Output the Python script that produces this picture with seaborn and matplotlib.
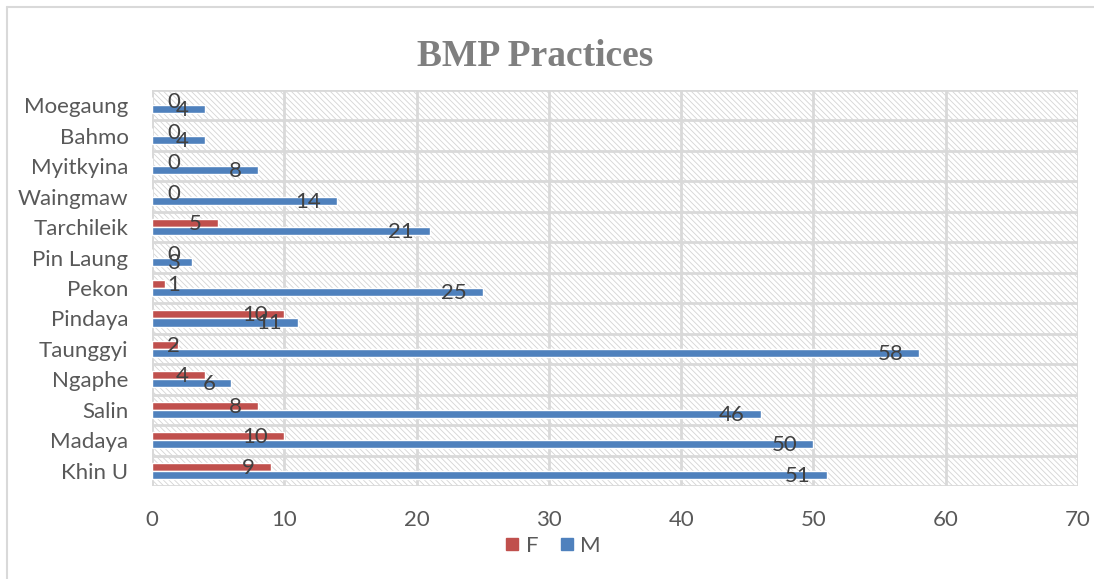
import matplotlib
matplotlib.use("Agg")
import matplotlib.pyplot as plt
import seaborn as sns
import pandas as pd
from matplotlib.patches import Rectangle
from matplotlib.lines import Line2D

categories = ["Moegaung", "Bahmo", "Myitkyina", "Waingmaw", "Tarchileik", "Pin Laung",
              "Pekon", "Pindaya", "Taunggyi", "Ngaphe", "Salin", "Madaya", "Khin U"]
f_values = [0, 0, 0, 0, 5, 0, 1, 10, 2, 4, 8, 10, 9]
m_values = [4, 4, 8, 14, 21, 3, 25, 11, 58, 6, 46, 50, 51]
series = ["F", "M"]
colors = ["#c0504d", "#4f81bd"]
x_ticks = [0, 10, 20, 30, 40, 50, 60, 70]

df = pd.DataFrame({
    "Site": categories * 2,
    "Sex": ["F"] * len(categories) + ["M"] * len(categories),
    "Count": f_values + m_values,
})

sns.set_theme(style="white")
plt.rcParams["font.family"] = ["Lato", "DejaVu Sans"]

fig = plt.figure(figsize=(10.94, 5.79), dpi=100)
ax = fig.add_axes([152 / 1094, 1 - 486 / 579, (1078 - 152) / 1094, (486 - 90) / 579])

sns.barplot(data=df, y="Site", x="Count", hue="Sex", hue_order=series,
            palette=colors, orient="h", width=0.53, saturation=1,
            errorbar=None, ax=ax, zorder=3, legend=False)

# hatched background
plt.rcParams["hatch.linewidth"] = 0.6
bg = Rectangle((0, 0), 1, 1, transform=ax.transAxes, facecolor="white",
               edgecolor="#d4d4d4", hatch="\\\\\\\\\\\\", lw=0, zorder=0)
ax.add_patch(bg)
ax.set_facecolor("white")

ax.set_xlim(0, 70)
ax.set_xticks(x_ticks)
n = len(categories)
ax.set_ylim(n - 0.5, -0.5)
ax.set_yticks(range(n))
ax.set_yticks([i + 0.5 for i in range(-1, n)], minor=True)
ax.grid(False)
ax.xaxis.grid(True, color="#d9d9d9", lw=2, zorder=1)
ax.yaxis.grid(True, which="minor", color="#d9d9d9", lw=2, zorder=1)
for s in ax.spines.values():
    s.set_visible(False)
ax.tick_params(axis="y", which="major", length=0, pad=17, labelsize=16, labelcolor="#595959")
ax.tick_params(axis="y", which="minor", length=6, width=1.5, color="#d9d9d9")
ax.tick_params(axis="x", length=0, pad=17, labelsize=16, labelcolor="#595959")
ax.set_xlabel("")
ax.set_ylabel("")
ax.axvline(0, color="#d9d9d9", lw=2, zorder=2)

# data labels
for container in ax.containers:
    for bar in container:
        v = bar.get_width()
        yc = bar.get_y() + bar.get_height() / 2
        if v <= 3:
            ax.annotate(f"{int(v)}", (0, yc), xytext=(15, -1), textcoords="offset pixels",
                        ha="left", va="center", fontsize=16, color="#404040", zorder=5)
        else:
            ax.annotate(f"{int(v)}", (v, yc), xytext=(-16, -1), textcoords="offset pixels",
                        ha="right", va="center", fontsize=16, color="#404040", zorder=5)

fig.text(535 / 1094, 1 - 57 / 579, "BMP Practices", ha="center", va="center",
         fontsize=27, fontweight="bold", color="#7f7f7f",
         family=["Liberation Serif", "DejaVu Serif"])

handles = [Line2D([], [], marker="s", linestyle="", markersize=9, color=c) for c in colors]
fig.legend(handles, series, loc="center", bbox_to_anchor=(551 / 1094, 1 - 546 / 579),
           ncol=2, frameon=False, fontsize=16, handletextpad=0.1, columnspacing=0.8,
           labelcolor="#595959", handlelength=1.0)

# outer chart border
fig.add_artist(Line2D([7 / 1094, 7 / 1094], [0, 1 - 7 / 579], transform=fig.transFigure,
                      color="#d9d9d9", lw=1.5))
fig.add_artist(Line2D([7 / 1094, 1], [1 - 7 / 579, 1 - 7 / 579], transform=fig.transFigure,
                      color="#d9d9d9", lw=1.5))

fig.savefig("out.png", dpi=100)
